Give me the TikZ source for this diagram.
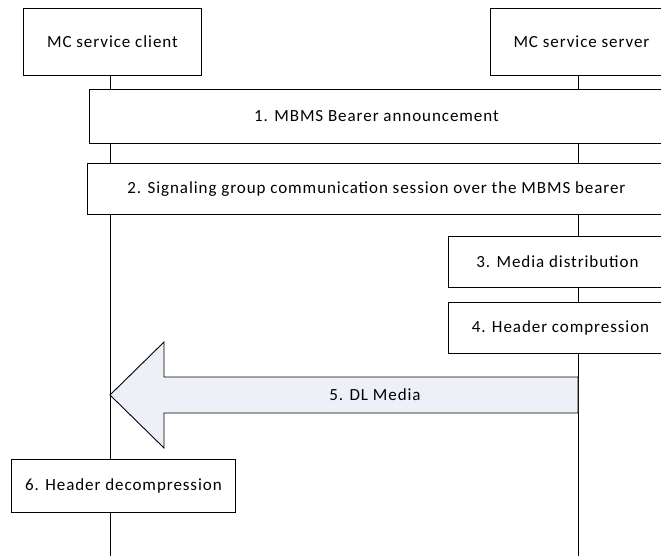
\documentclass[tikz,border=0pt]{standalone}
\usepackage{fontspec}
\setmainfont[LetterSpace=5.5]{Carlito}
\definecolor{arrowfill}{RGB}{237,240,246}
\begin{document}
\begin{tikzpicture}[x=1pt,y=-1pt,
  every node/.style={font=\fontsize{17}{20}\selectfont},
  box/.style={draw=black, line width=0.9pt, fill=white, rectangle, inner sep=0pt},
  lifeline/.style={draw=black, line width=0.9pt},
  bigarrow/.style={draw=black, line width=0.9pt, fill=arrowfill, line join=miter}]
\useasboundingbox (0,0) rectangle (661,555);
\clip (0,0) rectangle (661,555);
% lifeline anchors
\coordinate (cltop) at (110,75);
\coordinate (clbot) at (110,556);
\coordinate (svtop) at (578,75);
\coordinate (svbot) at (578,556);
\draw[lifeline] (cltop) -- (clbot);
\draw[lifeline] (svtop) -- (svbot);
% participant boxes
\node[box, minimum width=178pt, minimum height=67pt, anchor=north west] (client) at (23,8) {MC service client};
\node[box, minimum width=182pt, minimum height=67pt, anchor=north west] (server) at (490,8) {MC service server};
% steps
\node[box, minimum width=574pt, minimum height=54pt, anchor=north west] (s1) at (89,89) {1. MBMS Bearer announcement};
\node[box, minimum width=578pt, minimum height=51pt, anchor=north west] (s2) at (87,163) {2. Signaling group communication session over the MBMS bearer};
\node[box, minimum width=218pt, minimum height=51pt, anchor=north west] (s3) at (448,236) {3. Media distribution};
\node[box, minimum width=224pt, minimum height=51pt, anchor=north west] (s4) at (448,302) {4. Header compression};
\node[box, minimum width=224pt, minimum height=53pt, anchor=north west] (s6) at (11,459) {6. Header decompression};
% big arrow 5
\coordinate (tip) at (110,395);
\coordinate (tail) at (578,395);
\draw[bigarrow] (tip) -- (164,342) -- (164,377) -- (tail |- 0,377) -- (tail |- 0,413) -- (164,413) -- (164,448) -- cycle;
\node (dl) at (375,395) {5. DL Media};
\end{tikzpicture}
\end{document}
